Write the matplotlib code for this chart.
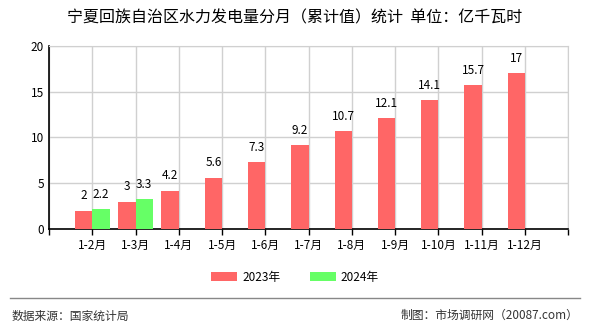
import matplotlib
matplotlib.use("Agg")
import matplotlib.pyplot as plt
import numpy as np

plt.rcParams['font.family'] = ['Noto Sans CJK SC', 'DejaVu Sans']

# cumulative hydro power output, 100 million kWh
months = ['1-2月', '1-3月', '1-4月', '1-5月', '1-6月', '1-7月',
          '1-8月', '1-9月', '1-10月', '1-11月', '1-12月']
values_2023 = [2, 3, 4.2, 5.6, 7.3, 9.2, 10.7, 12.1, 14.1, 15.7, 17]
values_2024 = [2.2, 3.3]

fig = plt.figure(figsize=(5.9, 3.3), dpi=100)
ax = fig.add_axes([0.083, 0.306, 0.880, 0.555])

x = np.arange(len(months))
w = 0.4
red = '#ff6666'
green = '#66ff66'

b1 = ax.bar(x - w / 2, values_2023, width=w, color=red, label='2023年', zorder=3)
b2 = ax.bar(x[:len(values_2024)] + w / 2, values_2024, width=w, color=green,
            label='2024年', zorder=3)

for rects, vals in [(b1, values_2023), (b2, values_2024)]:
    for r, v in zip(rects, vals):
        ax.text(r.get_x() + r.get_width() / 2, v + 0.9, '%g' % v,
                ha='center', va='bottom', fontsize=8.5, zorder=4)

ax.set_xlim(-1, 11)
ax.set_ylim(0, 20)
ax.set_yticks([0, 5, 10, 15, 20])
ax.set_xticks(np.arange(-1, 12))
ax.set_xticklabels([''] + months + [''])
ax.tick_params(axis='both', labelsize=8.5, length=4, width=1, color='black')
ax.tick_params(axis='y', length=0)
ax.grid(True, color='#d0d0d0', linewidth=1, zorder=0)

for side in ['top', 'right']:
    ax.spines[side].set_color('#d0d0d0')
for side in ['left', 'bottom']:
    ax.spines[side].set_color('black')
    ax.spines[side].set_linewidth(1.2)

fig.text(0.5, 0.945, '宁夏回族自治区水力发电量分月（累计值）统计  单位：亿千瓦时',
         ha='center', va='center', fontsize=11.5)

fig.legend(handles=[b1, b2], loc='center', bbox_to_anchor=(0.5, 0.16), ncol=2,
           frameon=False, fontsize=8.5, handlelength=2.2, handleheight=0.8,
           columnspacing=2.5, handletextpad=0.4)

fig.add_artist(plt.Line2D([0.017, 0.983], [0.097, 0.097], color='#888888',
                          linewidth=1, transform=fig.transFigure))
fig.text(0.019, 0.043, '数据来源：国家统计局', ha='left', va='center',
         fontsize=8.5, color='#333333')
fig.text(0.981, 0.043, '制图：市场调研网（20087.com）', ha='right', va='center',
         fontsize=8.5, color='#333333')

fig.savefig('out.png', dpi=100)
